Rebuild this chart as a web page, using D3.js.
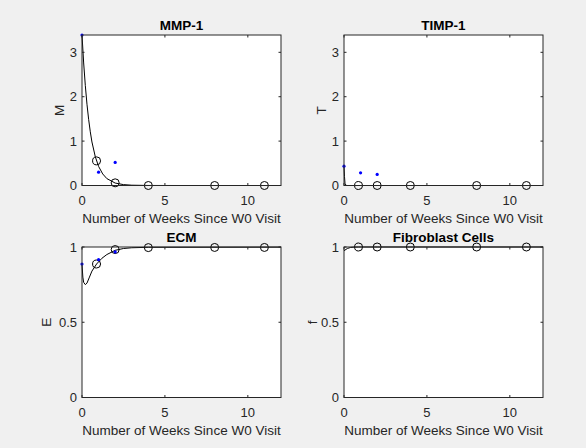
<!DOCTYPE html>
<html>
<head>
<meta charset="utf-8">
<script src="https://cdn.jsdelivr.net/npm/d3@7"></script>
<style>
	body { margin: 0; background: #f0f0f0; }
	svg { display: block; font-family: 'Liberation Sans', Arial, sans-serif; }
	.tick-lbl { font-size: 13px; fill: #262626; }
	.axis-lbl { font-size: 13.5px; fill: #262626; }
	.title { font-size: 13.5px; font-weight: bold; fill: #000; }
</style>
</head>
<body>
<svg id="chart" width="586" height="448"></svg>
<script>
// times at which the model is sampled (open circles)
var sampleWeeks = [0.88, 2, 4, 8, 11];

// MMP-1
var mmpCurveT = [0, 0.1, 0.2, 0.3, 0.4, 0.5, 0.6, 0.8, 1.0, 1.25, 1.5, 2, 2.5, 3, 4, 6, 8, 12];
var mmpCurveY = [3.39, 2.76, 2.25, 1.83, 1.49, 1.21, 0.98, 0.65, 0.43, 0.26, 0.155, 0.055, 0.02, 0.007, 0.001, 0, 0, 0];
var mmpSampleY = [0.555, 0.06, 0, 0, 0];
var mmpDataT = [0, 1, 2];
var mmpDataY = [3.39, 0.30, 0.52];

// TIMP-1
var timpCurveT = [0, 0.03, 0.06, 0.1, 0.2, 12];
var timpCurveY = [0.43, 0.2, 0.05, 0.005, 0, 0];
var timpSampleY = [0, 0, 0, 0, 0];
var timpDataT = [0, 1, 2];
var timpDataY = [0.435, 0.285, 0.25];

// ECM
var ecmCurveT = [0, 0.05, 0.1, 0.2, 0.3, 0.45, 0.6, 0.88, 1.2, 1.5, 2, 2.5, 3, 4, 12];
var ecmCurveY = [0.885, 0.80, 0.765, 0.75, 0.76, 0.80, 0.84, 0.887, 0.925, 0.95, 0.978, 0.99, 0.995, 0.998, 0.999];
var ecmSampleY = [0.887, 0.983, 0.996, 0.997, 0.997];
var ecmDataT = [0, 1, 2];
var ecmDataY = [0.887, 0.916, 0.967];

// Fibroblast cells
var fibCurveT = [0, 0.2, 0.4, 0.6, 0.88, 2, 12];
var fibCurveY = [0.975, 0.99, 0.997, 0.999, 1, 1, 1];
var fibSampleY = [1, 1, 1, 1, 1];

var xTicks = [0, 5, 10];
var xLabel = 'Number of Weeks Since W0 Visit';

var panels = [
	{ title: 'MMP-1', ylbl: 'M', left: 82, top: 35, yMax: 3.39, yTicks: [0, 1, 2, 3], fmt: d3.format('d'), lblX: 59,
		ct: mmpCurveT, cy: mmpCurveY, sy: mmpSampleY, dt: mmpDataT, dy: mmpDataY },
	{ title: 'TIMP-1', ylbl: 'T', left: 344, top: 35, yMax: 3.39, yTicks: [0, 1, 2, 3], fmt: d3.format('d'), lblX: 321,
		ct: timpCurveT, cy: timpCurveY, sy: timpSampleY, dt: timpDataT, dy: timpDataY },
	{ title: 'ECM', ylbl: 'E', left: 82, top: 247, yMax: 1, yTicks: [0, 0.5, 1], fmt: function (d) { return String(d); }, lblX: 46,
		ct: ecmCurveT, cy: ecmCurveY, sy: ecmSampleY, dt: ecmDataT, dy: ecmDataY },
	{ title: 'Fibroblast Cells', ylbl: 'f', left: 344, top: 247, yMax: 1, yTicks: [0, 0.5, 1], fmt: function (d) { return String(d); }, lblX: 312,
		ct: fibCurveT, cy: fibCurveY, sy: fibSampleY, dt: [], dy: [] }
];

var svg = d3.select('#chart');
var w = 199, h = 150.5, tickLen = 2.5;

panels.forEach(function (p) {
	var g = svg.append('g').attr('transform', 'translate(' + p.left + ',' + p.top + ')');
	var scaleX = d3.scaleLinear().domain([0, 12]).range([0, w]);
	var scaleY = d3.scaleLinear().domain([0, p.yMax]).range([h, 0]);

	g.append('rect').attr('width', w).attr('height', h).attr('fill', '#fff');

	var marks = g.append('g');

	// model curve
	var curve = p.ct.map(function (t, i) { return [t, p.cy[i]]; });
	var line = d3.line().x(function (d) { return scaleX(d[0]); }).y(function (d) { return scaleY(d[1]); });
	marks.append('path').datum(curve)
		.attr('d', line)
		.attr('fill', 'none')
		.attr('stroke', '#000')
		.attr('stroke-width', 1);

	// model at visit times
	marks.selectAll('circle.s').data(sampleWeeks).enter().append('circle')
		.attr('class', 's')
		.attr('cx', function (d) { return scaleX(d); })
		.attr('cy', function (d, i) { return scaleY(p.sy[i]); })
		.attr('r', 4)
		.attr('fill', 'none')
		.attr('stroke', '#000')
		.attr('stroke-width', 1);

	// measured data
	marks.selectAll('circle.d').data(p.dt).enter().append('circle')
		.attr('class', 'd')
		.attr('cx', function (d) { return scaleX(d); })
		.attr('cy', function (d, i) { return scaleY(p.dy[i]); })
		.attr('r', 1.6)
		.attr('fill', '#0000ff');

	// ticks on all four sides
	xTicks.forEach(function (t) {
		var x = scaleX(t);
		g.append('line').attr('x1', x).attr('x2', x).attr('y1', h).attr('y2', h - tickLen).attr('stroke', '#262626');
		g.append('line').attr('x1', x).attr('x2', x).attr('y1', 0).attr('y2', tickLen).attr('stroke', '#262626');
		g.append('text').attr('class', 'tick-lbl')
			.attr('x', x).attr('y', h + 19)
			.attr('text-anchor', 'middle')
			.text(t);
	});
	p.yTicks.forEach(function (t) {
		var y = scaleY(t);
		g.append('line').attr('x1', 0).attr('x2', tickLen).attr('y1', y).attr('y2', y).attr('stroke', '#262626');
		g.append('line').attr('x1', w).attr('x2', w - tickLen).attr('y1', y).attr('y2', y).attr('stroke', '#262626');
		g.append('text').attr('class', 'tick-lbl')
			.attr('x', -5).attr('y', y + 4.5)
			.attr('text-anchor', 'end')
			.text(p.fmt(t));
	});

	g.append('rect').attr('width', w).attr('height', h)
		.attr('fill', 'none').attr('stroke', '#262626').attr('stroke-width', 1);

	g.append('text').attr('class', 'title')
		.attr('x', w / 2).attr('y', -5)
		.attr('text-anchor', 'middle')
		.text(p.title);

	g.append('text').attr('class', 'axis-lbl')
		.attr('x', w / 2).attr('y', h + 37)
		.attr('text-anchor', 'middle')
		.text(xLabel);

	g.append('text').attr('class', 'axis-lbl')
		.attr('transform', 'translate(' + (p.lblX - p.left + 4.5) + ',' + (h / 2) + ') rotate(-90)')
		.attr('text-anchor', 'middle')
		.text(p.ylbl);
});
</script>
</body>
</html>
